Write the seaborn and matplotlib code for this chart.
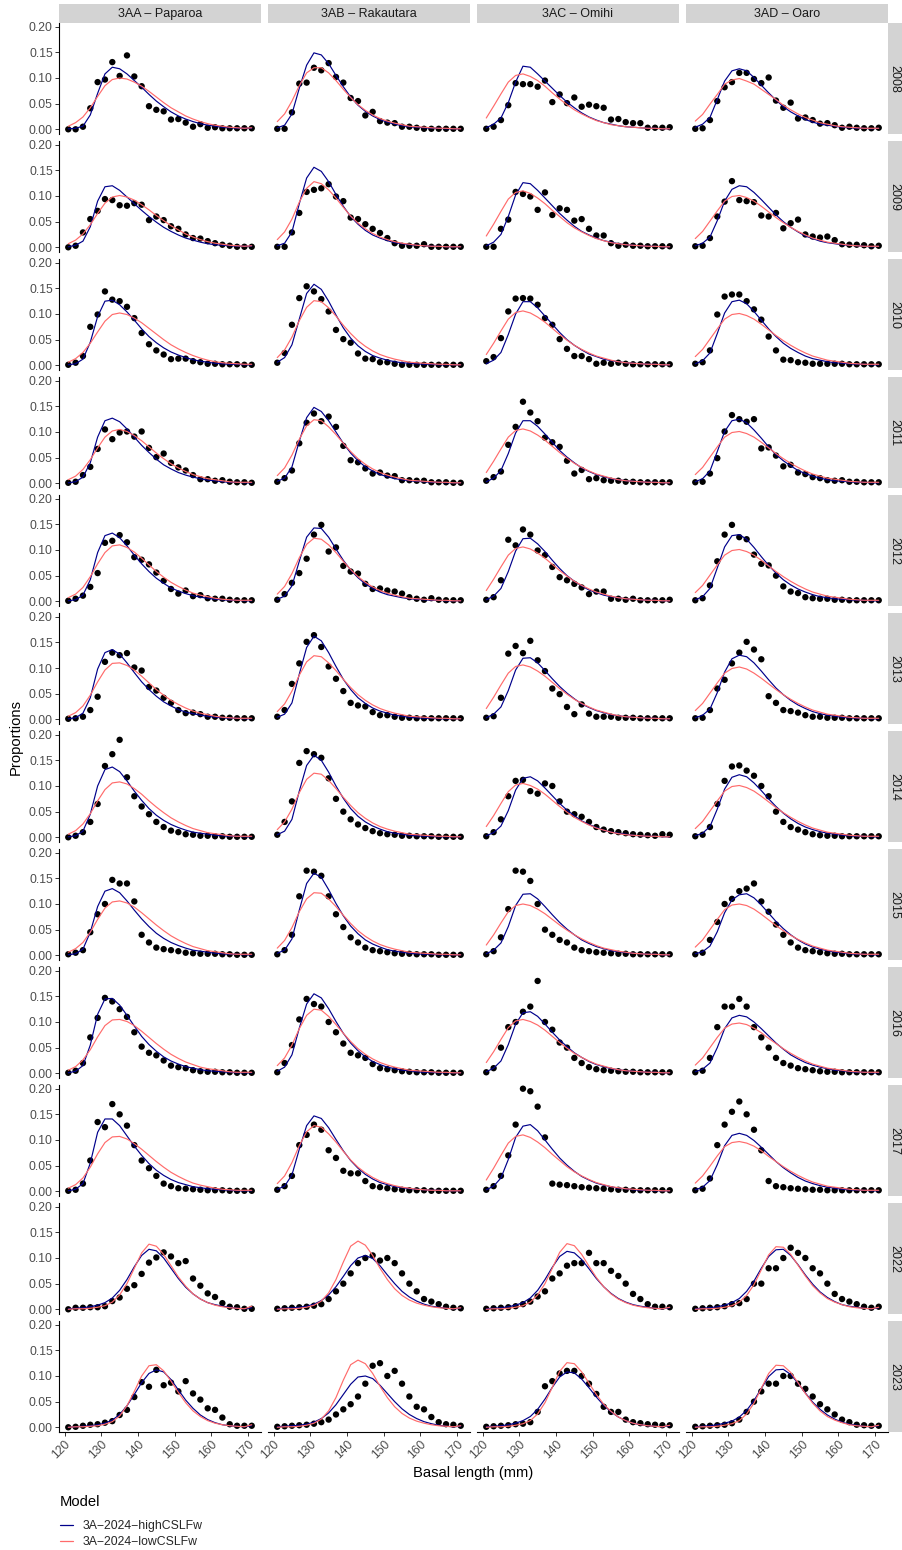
import matplotlib
matplotlib.use("Agg")
import matplotlib.pyplot as plt
import pandas as pd
import seaborn as sns
from matplotlib.lines import Line2D
from matplotlib.patches import Rectangle

sns.set_theme(style="white")
plt.rcParams["font.family"] = ["Liberation Sans", "DejaVu Sans"]

# ---------------------------------------------------------------- data
lengths = list(range(121, 172, 2))
areas = ["3AA – Paparoa", "3AB – Rakautara", "3AC – Omihi", "3AD – Oaro"]
years = [2008, 2009, 2010, 2011, 2012, 2013, 2014, 2015, 2016, 2017, 2022, 2023]
models = ["3A−2024−highCSLFw", "3A−2024−lowCSLFw"]
x_ticks = [120, 130, 140, 150, 160, 170]
y_ticks = [0.00, 0.05, 0.10, 0.15, 0.20]

# observed proportions at length, one row per year
obs_3AA = [
    [0.000,0.000,0.005,0.041,0.092,0.097,0.131,0.104,0.144,0.103,0.084,0.045,0.038,0.035,0.019,0.020,0.013,0.005,0.010,0.003,0.004,0.002,0.002,0.002,0.002,0.002],
    [0.000,0.003,0.029,0.055,0.071,0.094,0.092,0.082,0.081,0.086,0.083,0.053,0.060,0.053,0.041,0.036,0.025,0.018,0.017,0.012,0.008,0.005,0.003,0.001,0.001,0.001],
    [0.001,0.005,0.018,0.075,0.099,0.144,0.128,0.125,0.114,0.092,0.063,0.041,0.029,0.021,0.012,0.013,0.013,0.008,0.006,0.003,0.003,0.002,0.002,0.002,0.001,0.001],
    [0.001,0.003,0.016,0.032,0.067,0.105,0.086,0.099,0.101,0.091,0.101,0.069,0.051,0.058,0.040,0.031,0.025,0.016,0.008,0.008,0.005,0.006,0.003,0.002,0.002,0.001],
    [0.001,0.005,0.011,0.028,0.055,0.114,0.118,0.129,0.115,0.086,0.081,0.072,0.056,0.040,0.024,0.015,0.021,0.010,0.012,0.006,0.005,0.005,0.003,0.002,0.002,0.002],
    [0.001,0.002,0.005,0.018,0.044,0.112,0.130,0.125,0.129,0.101,0.095,0.063,0.056,0.042,0.032,0.018,0.012,0.013,0.010,0.005,0.005,0.003,0.003,0.002,0.002,0.002],
    [0.000,0.003,0.010,0.030,0.065,0.139,0.162,0.190,0.117,0.080,0.060,0.045,0.030,0.020,0.013,0.010,0.006,0.005,0.003,0.003,0.002,0.002,0.001,0.001,0.001,0.001],
    [0.002,0.005,0.010,0.045,0.080,0.100,0.147,0.140,0.140,0.105,0.040,0.025,0.015,0.012,0.010,0.008,0.005,0.004,0.003,0.003,0.003,0.002,0.002,0.001,0.001,0.001],
    [0.001,0.005,0.020,0.070,0.108,0.147,0.140,0.125,0.110,0.080,0.052,0.040,0.035,0.025,0.015,0.012,0.010,0.006,0.004,0.003,0.003,0.002,0.002,0.001,0.001,0.001],
    [0.001,0.003,0.015,0.060,0.135,0.125,0.170,0.150,0.128,0.090,0.060,0.045,0.030,0.015,0.010,0.006,0.005,0.004,0.003,0.002,0.002,0.002,0.001,0.001,0.001,0.001],
    [0.000,0.003,0.003,0.004,0.004,0.006,0.016,0.023,0.040,0.047,0.069,0.091,0.101,0.111,0.103,0.090,0.094,0.060,0.046,0.031,0.024,0.012,0.005,0.004,0.001,0.001],
    [0.000,0.001,0.003,0.005,0.006,0.009,0.012,0.024,0.034,0.059,0.088,0.079,0.112,0.082,0.087,0.070,0.090,0.066,0.054,0.037,0.034,0.019,0.006,0.003,0.003,0.003],
]
obs_3AB = [
    [0.001,0.001,0.033,0.089,0.091,0.120,0.115,0.129,0.102,0.091,0.061,0.055,0.027,0.034,0.016,0.013,0.012,0.005,0.005,0.003,0.001,0.001,0.001,0.001,0.001,0.001],
    [0.001,0.001,0.029,0.067,0.108,0.112,0.115,0.123,0.099,0.090,0.058,0.055,0.045,0.036,0.028,0.018,0.008,0.003,0.003,0.003,0.006,0.001,0.001,0.001,0.001,0.001],
    [0.005,0.024,0.079,0.131,0.154,0.144,0.129,0.105,0.069,0.051,0.044,0.023,0.013,0.012,0.006,0.006,0.003,0.001,0.001,0.001,0.001,0.001,0.001,0.001,0.001,0.001],
    [0.003,0.010,0.025,0.078,0.118,0.136,0.121,0.130,0.110,0.073,0.045,0.041,0.029,0.019,0.021,0.015,0.014,0.006,0.006,0.005,0.005,0.002,0.002,0.002,0.001,0.001],
    [0.003,0.014,0.036,0.055,0.083,0.130,0.149,0.097,0.105,0.069,0.058,0.054,0.034,0.024,0.025,0.021,0.019,0.015,0.008,0.005,0.003,0.006,0.003,0.002,0.002,0.002],
    [0.005,0.018,0.069,0.109,0.151,0.164,0.141,0.103,0.079,0.055,0.032,0.027,0.025,0.014,0.008,0.008,0.005,0.003,0.003,0.002,0.002,0.002,0.002,0.002,0.002,0.002],
    [0.005,0.030,0.070,0.145,0.168,0.162,0.155,0.115,0.075,0.050,0.035,0.025,0.018,0.012,0.008,0.006,0.005,0.003,0.003,0.002,0.002,0.002,0.001,0.001,0.001,0.001],
    [0.002,0.010,0.040,0.115,0.165,0.163,0.155,0.115,0.080,0.055,0.035,0.025,0.015,0.010,0.008,0.006,0.004,0.003,0.003,0.002,0.002,0.002,0.001,0.001,0.001,0.001],
    [0.002,0.020,0.055,0.105,0.145,0.135,0.130,0.100,0.080,0.058,0.040,0.035,0.030,0.018,0.010,0.008,0.006,0.004,0.003,0.002,0.002,0.002,0.001,0.001,0.001,0.001],
    [0.003,0.010,0.030,0.090,0.110,0.130,0.120,0.080,0.065,0.040,0.035,0.035,0.020,0.010,0.008,0.006,0.004,0.003,0.002,0.002,0.002,0.001,0.001,0.001,0.001,0.001],
    [0.001,0.002,0.003,0.004,0.005,0.007,0.010,0.020,0.035,0.050,0.070,0.090,0.100,0.105,0.095,0.100,0.090,0.070,0.050,0.035,0.020,0.015,0.010,0.005,0.003,0.002],
    [0.001,0.002,0.003,0.004,0.005,0.007,0.010,0.015,0.025,0.035,0.045,0.060,0.085,0.120,0.125,0.100,0.110,0.085,0.060,0.040,0.035,0.020,0.010,0.006,0.005,0.003],
]
obs_3AC = [
    [0.001,0.005,0.018,0.047,0.090,0.088,0.088,0.083,0.095,0.053,0.068,0.051,0.062,0.044,0.048,0.045,0.042,0.019,0.020,0.014,0.012,0.012,0.003,0.003,0.003,0.004],
    [0.001,0.001,0.036,0.054,0.108,0.104,0.099,0.073,0.107,0.063,0.076,0.073,0.052,0.055,0.036,0.023,0.023,0.008,0.003,0.005,0.003,0.003,0.002,0.002,0.002,0.002],
    [0.008,0.016,0.053,0.105,0.130,0.131,0.130,0.118,0.092,0.079,0.051,0.032,0.018,0.018,0.012,0.003,0.005,0.003,0.005,0.003,0.002,0.002,0.002,0.002,0.002,0.002],
    [0.005,0.012,0.023,0.075,0.110,0.159,0.138,0.121,0.089,0.080,0.071,0.044,0.019,0.026,0.008,0.010,0.006,0.005,0.005,0.003,0.003,0.002,0.002,0.002,0.002,0.002],
    [0.003,0.008,0.041,0.120,0.109,0.140,0.130,0.099,0.090,0.067,0.047,0.041,0.034,0.027,0.014,0.019,0.019,0.005,0.005,0.003,0.005,0.002,0.002,0.002,0.002,0.003],
    [0.003,0.006,0.042,0.128,0.143,0.129,0.153,0.115,0.094,0.060,0.049,0.024,0.010,0.029,0.011,0.005,0.005,0.005,0.003,0.003,0.003,0.002,0.002,0.002,0.002,0.002],
    [0.002,0.010,0.035,0.080,0.110,0.112,0.090,0.085,0.105,0.100,0.070,0.050,0.045,0.040,0.030,0.020,0.015,0.012,0.010,0.008,0.006,0.005,0.004,0.003,0.006,0.005],
    [0.002,0.008,0.035,0.090,0.165,0.163,0.145,0.100,0.050,0.040,0.030,0.025,0.015,0.010,0.008,0.006,0.005,0.004,0.003,0.003,0.002,0.002,0.002,0.002,0.002,0.002],
    [0.002,0.010,0.050,0.090,0.100,0.120,0.130,0.180,0.100,0.085,0.060,0.050,0.030,0.020,0.012,0.008,0.006,0.005,0.004,0.003,0.003,0.002,0.002,0.002,0.002,0.002],
    [0.003,0.010,0.030,0.070,0.130,0.200,0.195,0.165,0.105,0.015,0.013,0.012,0.010,0.008,0.007,0.006,0.005,0.004,0.003,0.003,0.002,0.002,0.002,0.002,0.002,0.002],
    [0.001,0.002,0.003,0.004,0.006,0.010,0.015,0.025,0.035,0.060,0.070,0.085,0.090,0.090,0.110,0.090,0.090,0.075,0.065,0.050,0.030,0.020,0.010,0.005,0.005,0.004],
    [0.001,0.002,0.003,0.004,0.006,0.007,0.010,0.030,0.080,0.090,0.105,0.110,0.110,0.100,0.085,0.065,0.040,0.030,0.030,0.015,0.010,0.008,0.006,0.005,0.004,0.004],
]
obs_3AD = [
    [0.001,0.002,0.018,0.055,0.082,0.092,0.110,0.110,0.098,0.090,0.101,0.056,0.042,0.052,0.021,0.023,0.018,0.011,0.012,0.008,0.003,0.005,0.003,0.002,0.002,0.003],
    [0.002,0.003,0.018,0.060,0.089,0.129,0.092,0.090,0.088,0.062,0.060,0.067,0.037,0.047,0.054,0.025,0.021,0.019,0.021,0.014,0.006,0.005,0.005,0.004,0.002,0.003],
    [0.003,0.006,0.029,0.099,0.134,0.138,0.138,0.125,0.109,0.089,0.056,0.029,0.011,0.010,0.006,0.005,0.003,0.003,0.003,0.003,0.003,0.002,0.002,0.002,0.002,0.002],
    [0.002,0.003,0.019,0.049,0.101,0.133,0.125,0.120,0.125,0.068,0.070,0.054,0.033,0.036,0.021,0.018,0.012,0.010,0.006,0.005,0.006,0.003,0.003,0.002,0.002,0.002],
    [0.002,0.006,0.031,0.078,0.130,0.149,0.125,0.121,0.091,0.073,0.070,0.050,0.029,0.019,0.016,0.008,0.006,0.005,0.005,0.003,0.003,0.002,0.002,0.002,0.002,0.002],
    [0.002,0.003,0.018,0.060,0.077,0.109,0.130,0.151,0.136,0.117,0.045,0.032,0.018,0.016,0.013,0.008,0.005,0.005,0.003,0.003,0.003,0.002,0.002,0.002,0.002,0.002],
    [0.002,0.005,0.020,0.065,0.110,0.138,0.140,0.130,0.120,0.100,0.080,0.050,0.030,0.020,0.015,0.010,0.006,0.004,0.003,0.003,0.002,0.002,0.002,0.002,0.002,0.002],
    [0.002,0.005,0.030,0.065,0.100,0.110,0.125,0.130,0.140,0.105,0.085,0.060,0.040,0.025,0.015,0.010,0.008,0.006,0.004,0.003,0.003,0.002,0.002,0.002,0.002,0.002],
    [0.002,0.005,0.030,0.090,0.130,0.130,0.145,0.130,0.090,0.070,0.050,0.030,0.020,0.015,0.010,0.008,0.006,0.004,0.003,0.003,0.002,0.002,0.002,0.002,0.002,0.002],
    [0.002,0.005,0.025,0.090,0.130,0.155,0.175,0.150,0.120,0.080,0.020,0.010,0.008,0.006,0.005,0.004,0.003,0.003,0.002,0.002,0.002,0.002,0.002,0.002,0.002,0.002],
    [0.001,0.002,0.003,0.004,0.006,0.010,0.012,0.020,0.050,0.050,0.080,0.080,0.100,0.120,0.110,0.100,0.080,0.070,0.050,0.030,0.020,0.015,0.010,0.005,0.003,0.005],
    [0.001,0.002,0.003,0.004,0.005,0.008,0.015,0.030,0.050,0.070,0.085,0.085,0.100,0.100,0.085,0.075,0.060,0.045,0.035,0.025,0.015,0.010,0.005,0.004,0.003,0.003],
]

# expected proportions, model 3A-2024-highCSLFw
high_3AA = [
    [0.001,0.002,0.006,0.028,0.070,0.108,0.121,0.118,0.108,0.095,0.082,0.068,0.055,0.044,0.034,0.026,0.020,0.015,0.011,0.008,0.006,0.004,0.003,0.002,0.002,0.002],
    [0.001,0.004,0.012,0.040,0.090,0.118,0.120,0.111,0.098,0.085,0.072,0.060,0.049,0.039,0.031,0.024,0.018,0.014,0.010,0.007,0.005,0.004,0.003,0.002,0.002,0.002],
    [0.001,0.003,0.012,0.045,0.095,0.125,0.127,0.118,0.104,0.088,0.071,0.056,0.044,0.034,0.026,0.020,0.015,0.011,0.008,0.006,0.004,0.003,0.002,0.002,0.001,0.001],
    [0.001,0.003,0.012,0.040,0.090,0.122,0.127,0.120,0.106,0.090,0.074,0.060,0.047,0.036,0.028,0.021,0.016,0.012,0.009,0.006,0.005,0.003,0.002,0.002,0.001,0.001],
    [0.001,0.003,0.012,0.042,0.095,0.128,0.133,0.124,0.108,0.090,0.073,0.058,0.045,0.035,0.026,0.020,0.015,0.011,0.008,0.006,0.004,0.003,0.002,0.002,0.001,0.001],
    [0.001,0.003,0.012,0.042,0.098,0.130,0.136,0.127,0.110,0.091,0.073,0.058,0.045,0.034,0.026,0.019,0.014,0.011,0.008,0.006,0.004,0.003,0.002,0.002,0.001,0.001],
    [0.001,0.003,0.012,0.045,0.100,0.132,0.137,0.128,0.110,0.090,0.072,0.056,0.043,0.033,0.025,0.019,0.014,0.010,0.008,0.006,0.004,0.003,0.002,0.002,0.001,0.001],
    [0.001,0.003,0.012,0.045,0.095,0.125,0.130,0.122,0.106,0.088,0.071,0.056,0.043,0.033,0.025,0.019,0.014,0.010,0.008,0.006,0.004,0.003,0.002,0.002,0.001,0.001],
    [0.001,0.004,0.015,0.055,0.115,0.145,0.146,0.133,0.113,0.092,0.072,0.056,0.043,0.032,0.024,0.018,0.013,0.010,0.007,0.005,0.004,0.003,0.002,0.001,0.001,0.001],
    [0.001,0.004,0.015,0.055,0.115,0.141,0.141,0.128,0.108,0.088,0.070,0.054,0.041,0.031,0.023,0.017,0.013,0.009,0.007,0.005,0.004,0.003,0.002,0.001,0.001,0.001],
    [0.001,0.002,0.003,0.005,0.008,0.013,0.022,0.037,0.058,0.083,0.105,0.117,0.114,0.100,0.080,0.060,0.043,0.030,0.020,0.013,0.009,0.006,0.004,0.002,0.001,0.003],
    [0.000,0.001,0.002,0.003,0.005,0.008,0.014,0.025,0.042,0.064,0.087,0.105,0.112,0.108,0.093,0.073,0.053,0.037,0.024,0.015,0.009,0.005,0.003,0.002,0.001,0.003],
]
high_3AB = [
    [0.003,0.008,0.030,0.080,0.125,0.149,0.145,0.128,0.105,0.083,0.063,0.047,0.035,0.026,0.019,0.014,0.010,0.007,0.005,0.004,0.003,0.002,0.002,0.001,0.001,0.001],
    [0.003,0.008,0.030,0.085,0.135,0.156,0.148,0.128,0.103,0.080,0.060,0.045,0.033,0.024,0.018,0.013,0.009,0.007,0.005,0.004,0.003,0.002,0.002,0.001,0.001,0.001],
    [0.006,0.015,0.040,0.090,0.140,0.158,0.148,0.125,0.098,0.073,0.053,0.038,0.027,0.019,0.014,0.010,0.007,0.005,0.004,0.003,0.002,0.002,0.001,0.001,0.001,0.001],
    [0.004,0.010,0.032,0.082,0.128,0.148,0.140,0.122,0.100,0.078,0.059,0.044,0.032,0.024,0.017,0.013,0.009,0.007,0.005,0.004,0.003,0.002,0.002,0.001,0.001,0.001],
    [0.004,0.010,0.030,0.078,0.125,0.143,0.142,0.125,0.102,0.080,0.061,0.046,0.034,0.025,0.018,0.013,0.010,0.007,0.005,0.004,0.003,0.002,0.002,0.001,0.001,0.001],
    [0.004,0.010,0.032,0.088,0.140,0.162,0.153,0.130,0.103,0.078,0.058,0.042,0.031,0.022,0.016,0.012,0.008,0.006,0.004,0.003,0.002,0.002,0.001,0.001,0.001,0.001],
    [0.005,0.012,0.035,0.090,0.140,0.160,0.150,0.127,0.100,0.076,0.056,0.041,0.030,0.022,0.016,0.011,0.008,0.006,0.004,0.003,0.002,0.002,0.001,0.001,0.001,0.001],
    [0.004,0.010,0.032,0.088,0.140,0.160,0.152,0.128,0.101,0.077,0.057,0.042,0.030,0.022,0.016,0.011,0.008,0.006,0.004,0.003,0.002,0.002,0.001,0.001,0.001,0.001],
    [0.004,0.012,0.036,0.088,0.135,0.155,0.147,0.126,0.101,0.078,0.059,0.044,0.032,0.023,0.017,0.012,0.009,0.006,0.005,0.003,0.002,0.002,0.001,0.001,0.001,0.001],
    [0.004,0.010,0.032,0.082,0.128,0.147,0.142,0.124,0.101,0.079,0.060,0.045,0.033,0.024,0.017,0.013,0.009,0.007,0.005,0.004,0.003,0.002,0.002,0.001,0.001,0.001],
    [0.001,0.002,0.003,0.004,0.006,0.010,0.017,0.028,0.044,0.064,0.085,0.100,0.105,0.099,0.085,0.067,0.050,0.035,0.024,0.016,0.010,0.006,0.004,0.002,0.001,0.002],
    [0.001,0.002,0.003,0.004,0.006,0.010,0.017,0.028,0.044,0.064,0.084,0.098,0.100,0.095,0.082,0.066,0.050,0.036,0.025,0.017,0.011,0.007,0.004,0.002,0.001,0.002],
]
high_3AC = [
    [0.003,0.010,0.022,0.052,0.092,0.123,0.121,0.108,0.094,0.080,0.066,0.053,0.042,0.032,0.024,0.018,0.013,0.010,0.007,0.005,0.004,0.003,0.002,0.002,0.001,0.001],
    [0.003,0.010,0.025,0.060,0.102,0.126,0.124,0.111,0.096,0.081,0.066,0.053,0.041,0.031,0.024,0.018,0.013,0.010,0.007,0.005,0.004,0.003,0.002,0.002,0.001,0.001],
    [0.003,0.010,0.025,0.060,0.100,0.124,0.124,0.112,0.096,0.080,0.064,0.050,0.039,0.030,0.022,0.017,0.012,0.009,0.007,0.005,0.004,0.003,0.002,0.002,0.001,0.001],
    [0.003,0.010,0.025,0.058,0.098,0.122,0.122,0.111,0.096,0.080,0.064,0.051,0.040,0.030,0.023,0.017,0.013,0.009,0.007,0.005,0.004,0.003,0.002,0.002,0.001,0.001],
    [0.003,0.010,0.025,0.058,0.098,0.122,0.123,0.112,0.097,0.080,0.064,0.050,0.039,0.030,0.022,0.017,0.012,0.009,0.007,0.005,0.004,0.003,0.002,0.002,0.001,0.001],
    [0.003,0.010,0.024,0.056,0.096,0.119,0.120,0.110,0.095,0.079,0.064,0.051,0.040,0.030,0.023,0.017,0.013,0.009,0.007,0.005,0.004,0.003,0.002,0.002,0.001,0.001],
    [0.003,0.009,0.022,0.052,0.092,0.115,0.118,0.110,0.096,0.081,0.066,0.053,0.042,0.032,0.025,0.019,0.014,0.010,0.008,0.006,0.004,0.003,0.002,0.002,0.001,0.001],
    [0.003,0.010,0.024,0.056,0.097,0.119,0.120,0.110,0.095,0.079,0.064,0.051,0.040,0.030,0.023,0.017,0.013,0.009,0.007,0.005,0.004,0.003,0.002,0.002,0.001,0.001],
    [0.003,0.010,0.024,0.056,0.096,0.118,0.120,0.111,0.096,0.080,0.065,0.052,0.040,0.031,0.023,0.017,0.013,0.009,0.007,0.005,0.004,0.003,0.002,0.002,0.001,0.001],
    [0.003,0.010,0.026,0.062,0.105,0.127,0.130,0.118,0.100,0.082,0.065,0.051,0.039,0.029,0.022,0.016,0.012,0.009,0.006,0.005,0.003,0.002,0.002,0.001,0.001,0.001],
    [0.001,0.002,0.003,0.005,0.008,0.013,0.022,0.037,0.058,0.082,0.103,0.113,0.110,0.097,0.079,0.060,0.044,0.031,0.021,0.014,0.009,0.006,0.004,0.002,0.001,0.003],
    [0.001,0.002,0.003,0.005,0.008,0.013,0.021,0.035,0.055,0.078,0.098,0.108,0.106,0.094,0.077,0.059,0.043,0.030,0.020,0.013,0.008,0.005,0.003,0.002,0.001,0.003],
]
high_3AD = [
    [0.004,0.010,0.023,0.058,0.094,0.114,0.118,0.114,0.101,0.086,0.071,0.057,0.044,0.034,0.026,0.019,0.014,0.010,0.008,0.006,0.004,0.003,0.002,0.002,0.001,0.002],
    [0.003,0.008,0.020,0.052,0.090,0.113,0.120,0.118,0.107,0.093,0.078,0.063,0.050,0.039,0.030,0.022,0.017,0.012,0.009,0.007,0.005,0.004,0.003,0.002,0.001,0.002],
    [0.003,0.009,0.024,0.062,0.102,0.124,0.127,0.120,0.105,0.088,0.071,0.056,0.043,0.033,0.025,0.018,0.013,0.010,0.007,0.005,0.004,0.003,0.002,0.002,0.001,0.001],
    [0.003,0.009,0.024,0.062,0.101,0.122,0.125,0.118,0.104,0.088,0.071,0.056,0.044,0.034,0.025,0.019,0.014,0.010,0.007,0.005,0.004,0.003,0.002,0.002,0.001,0.001],
    [0.003,0.009,0.025,0.065,0.106,0.128,0.130,0.121,0.105,0.087,0.070,0.055,0.042,0.032,0.024,0.018,0.013,0.009,0.007,0.005,0.004,0.003,0.002,0.002,0.001,0.001],
    [0.003,0.008,0.020,0.052,0.092,0.118,0.125,0.122,0.110,0.094,0.077,0.061,0.048,0.037,0.028,0.021,0.015,0.011,0.008,0.006,0.004,0.003,0.002,0.002,0.001,0.001],
    [0.003,0.008,0.021,0.055,0.094,0.117,0.122,0.118,0.106,0.091,0.075,0.060,0.047,0.036,0.027,0.020,0.015,0.011,0.008,0.006,0.004,0.003,0.002,0.002,0.001,0.001],
    [0.003,0.007,0.018,0.046,0.083,0.108,0.118,0.120,0.112,0.098,0.082,0.066,0.052,0.040,0.030,0.022,0.016,0.012,0.009,0.006,0.005,0.003,0.002,0.002,0.001,0.001],
    [0.003,0.008,0.020,0.050,0.087,0.108,0.113,0.110,0.100,0.087,0.073,0.059,0.047,0.036,0.028,0.021,0.016,0.012,0.009,0.006,0.005,0.003,0.002,0.002,0.001,0.001],
    [0.003,0.008,0.021,0.052,0.089,0.109,0.113,0.109,0.099,0.086,0.072,0.058,0.046,0.036,0.027,0.020,0.015,0.011,0.008,0.006,0.004,0.003,0.002,0.002,0.001,0.001],
    [0.001,0.002,0.003,0.005,0.008,0.013,0.021,0.035,0.055,0.080,0.103,0.116,0.117,0.105,0.087,0.067,0.049,0.034,0.023,0.015,0.009,0.006,0.004,0.002,0.001,0.003],
    [0.001,0.002,0.003,0.005,0.008,0.012,0.020,0.033,0.052,0.076,0.099,0.112,0.113,0.103,0.086,0.067,0.049,0.035,0.024,0.016,0.010,0.006,0.004,0.002,0.001,0.003],
]

# expected proportions, model 3A-2024-lowCSLFw
low_3AA = [
    [0.006,0.013,0.024,0.042,0.064,0.085,0.097,0.100,0.098,0.092,0.084,0.074,0.063,0.052,0.042,0.034,0.026,0.020,0.015,0.011,0.008,0.006,0.004,0.003,0.002,0.003],
    [0.007,0.014,0.026,0.044,0.066,0.086,0.098,0.101,0.098,0.092,0.083,0.073,0.062,0.052,0.042,0.034,0.026,0.020,0.015,0.011,0.008,0.006,0.004,0.003,0.002,0.003],
    [0.006,0.013,0.025,0.043,0.065,0.086,0.099,0.102,0.099,0.092,0.083,0.072,0.061,0.050,0.040,0.032,0.025,0.019,0.014,0.010,0.007,0.005,0.004,0.003,0.002,0.002],
    [0.007,0.014,0.027,0.046,0.069,0.090,0.102,0.105,0.101,0.093,0.083,0.071,0.059,0.048,0.038,0.030,0.023,0.017,0.013,0.009,0.007,0.005,0.003,0.002,0.002,0.002],
    [0.007,0.014,0.027,0.048,0.073,0.095,0.108,0.110,0.105,0.096,0.084,0.071,0.058,0.047,0.037,0.029,0.022,0.016,0.012,0.009,0.006,0.004,0.003,0.002,0.002,0.002],
    [0.006,0.013,0.026,0.047,0.073,0.096,0.109,0.110,0.105,0.096,0.084,0.071,0.058,0.047,0.037,0.029,0.022,0.016,0.012,0.009,0.006,0.004,0.003,0.002,0.002,0.002],
    [0.006,0.013,0.026,0.046,0.071,0.093,0.106,0.108,0.104,0.095,0.084,0.071,0.059,0.048,0.038,0.030,0.023,0.017,0.013,0.009,0.007,0.005,0.003,0.002,0.002,0.002],
    [0.006,0.013,0.025,0.045,0.070,0.092,0.104,0.106,0.102,0.094,0.083,0.071,0.059,0.048,0.038,0.030,0.023,0.017,0.013,0.009,0.007,0.005,0.003,0.002,0.002,0.002],
    [0.006,0.013,0.026,0.046,0.071,0.093,0.104,0.105,0.101,0.093,0.082,0.070,0.058,0.047,0.037,0.029,0.022,0.017,0.012,0.009,0.007,0.005,0.003,0.002,0.002,0.002],
    [0.006,0.013,0.026,0.047,0.073,0.095,0.106,0.107,0.102,0.093,0.082,0.070,0.058,0.047,0.037,0.029,0.022,0.016,0.012,0.009,0.006,0.004,0.003,0.002,0.002,0.002],
    [0.000,0.001,0.001,0.002,0.004,0.007,0.014,0.028,0.050,0.080,0.110,0.127,0.123,0.107,0.085,0.063,0.045,0.030,0.020,0.013,0.008,0.005,0.003,0.002,0.001,0.006],
    [0.000,0.001,0.001,0.002,0.003,0.006,0.011,0.022,0.042,0.070,0.100,0.120,0.122,0.110,0.090,0.068,0.048,0.032,0.021,0.013,0.008,0.005,0.003,0.002,0.001,0.005],
]
low_3AB = [
    [0.015,0.030,0.055,0.085,0.110,0.120,0.120,0.110,0.095,0.078,0.062,0.048,0.037,0.028,0.021,0.016,0.012,0.009,0.006,0.005,0.004,0.003,0.002,0.002,0.001,0.001],
    [0.015,0.030,0.055,0.088,0.115,0.128,0.124,0.112,0.096,0.078,0.061,0.047,0.036,0.027,0.020,0.015,0.011,0.008,0.006,0.004,0.003,0.002,0.002,0.001,0.001,0.001],
    [0.015,0.030,0.055,0.087,0.113,0.126,0.124,0.112,0.096,0.078,0.062,0.048,0.037,0.028,0.021,0.016,0.012,0.009,0.006,0.005,0.004,0.003,0.002,0.002,0.001,0.001],
    [0.015,0.030,0.055,0.086,0.112,0.124,0.122,0.110,0.095,0.078,0.062,0.048,0.037,0.028,0.021,0.016,0.012,0.009,0.006,0.005,0.004,0.003,0.002,0.002,0.001,0.001],
    [0.014,0.029,0.054,0.085,0.111,0.123,0.121,0.110,0.095,0.078,0.062,0.048,0.037,0.028,0.021,0.016,0.012,0.009,0.006,0.005,0.004,0.003,0.002,0.002,0.001,0.001],
    [0.015,0.030,0.055,0.086,0.112,0.124,0.122,0.110,0.095,0.078,0.062,0.048,0.037,0.028,0.021,0.016,0.012,0.009,0.006,0.005,0.004,0.003,0.002,0.002,0.001,0.001],
    [0.015,0.030,0.055,0.087,0.113,0.125,0.123,0.111,0.095,0.078,0.062,0.048,0.037,0.028,0.021,0.016,0.012,0.009,0.006,0.005,0.004,0.003,0.002,0.002,0.001,0.001],
    [0.014,0.029,0.054,0.085,0.110,0.122,0.121,0.110,0.095,0.078,0.062,0.048,0.037,0.028,0.021,0.016,0.012,0.009,0.006,0.005,0.004,0.003,0.002,0.002,0.001,0.001],
    [0.015,0.030,0.055,0.087,0.113,0.125,0.123,0.111,0.095,0.078,0.062,0.048,0.037,0.028,0.021,0.016,0.012,0.009,0.006,0.005,0.004,0.003,0.002,0.002,0.001,0.001],
    [0.015,0.030,0.056,0.089,0.116,0.128,0.125,0.112,0.096,0.078,0.061,0.047,0.036,0.027,0.020,0.015,0.011,0.008,0.006,0.004,0.003,0.002,0.002,0.001,0.001,0.001],
    [0.000,0.001,0.001,0.002,0.004,0.008,0.016,0.032,0.058,0.092,0.123,0.133,0.125,0.105,0.080,0.058,0.040,0.027,0.018,0.012,0.008,0.005,0.003,0.002,0.001,0.003],
    [0.000,0.001,0.001,0.002,0.004,0.008,0.016,0.032,0.058,0.092,0.122,0.131,0.124,0.105,0.080,0.058,0.040,0.027,0.018,0.012,0.008,0.005,0.003,0.002,0.001,0.003],
]
low_3AC = [
    [0.022,0.045,0.069,0.092,0.105,0.108,0.103,0.095,0.084,0.071,0.059,0.048,0.038,0.030,0.023,0.017,0.013,0.009,0.007,0.005,0.004,0.003,0.002,0.002,0.001,0.001],
    [0.022,0.045,0.070,0.094,0.107,0.110,0.105,0.096,0.085,0.072,0.060,0.048,0.038,0.030,0.023,0.017,0.013,0.009,0.007,0.005,0.004,0.003,0.002,0.002,0.001,0.001],
    [0.021,0.043,0.067,0.090,0.103,0.106,0.102,0.094,0.084,0.072,0.060,0.049,0.039,0.031,0.024,0.018,0.014,0.010,0.007,0.005,0.004,0.003,0.002,0.002,0.001,0.001],
    [0.021,0.043,0.067,0.090,0.103,0.106,0.102,0.094,0.084,0.072,0.060,0.049,0.039,0.031,0.024,0.018,0.014,0.010,0.007,0.005,0.004,0.003,0.002,0.002,0.001,0.001],
    [0.021,0.043,0.067,0.090,0.103,0.106,0.102,0.094,0.084,0.072,0.060,0.049,0.039,0.031,0.024,0.018,0.014,0.010,0.007,0.005,0.004,0.003,0.002,0.002,0.001,0.001],
    [0.021,0.043,0.067,0.090,0.103,0.106,0.102,0.094,0.084,0.072,0.060,0.049,0.039,0.031,0.024,0.018,0.014,0.010,0.007,0.005,0.004,0.003,0.002,0.002,0.001,0.001],
    [0.021,0.042,0.066,0.089,0.102,0.105,0.101,0.094,0.084,0.072,0.060,0.049,0.039,0.031,0.024,0.018,0.014,0.010,0.007,0.005,0.004,0.003,0.002,0.002,0.001,0.001],
    [0.020,0.040,0.063,0.085,0.097,0.100,0.097,0.090,0.081,0.070,0.059,0.049,0.040,0.032,0.025,0.019,0.014,0.011,0.008,0.006,0.004,0.003,0.002,0.002,0.001,0.001],
    [0.021,0.042,0.066,0.089,0.102,0.105,0.101,0.094,0.084,0.072,0.060,0.049,0.039,0.031,0.024,0.018,0.014,0.010,0.007,0.005,0.004,0.003,0.002,0.002,0.001,0.001],
    [0.022,0.045,0.070,0.094,0.107,0.110,0.105,0.096,0.085,0.072,0.060,0.048,0.038,0.030,0.023,0.017,0.013,0.009,0.007,0.005,0.004,0.003,0.002,0.002,0.001,0.001],
    [0.000,0.001,0.001,0.002,0.004,0.007,0.014,0.028,0.050,0.080,0.111,0.128,0.124,0.107,0.084,0.062,0.044,0.030,0.020,0.013,0.008,0.005,0.003,0.002,0.001,0.004],
    [0.000,0.001,0.001,0.002,0.004,0.007,0.013,0.026,0.048,0.078,0.109,0.126,0.124,0.108,0.086,0.064,0.045,0.031,0.020,0.013,0.008,0.005,0.003,0.002,0.001,0.004],
]
low_3AD = [
    [0.016,0.029,0.049,0.068,0.088,0.096,0.099,0.094,0.088,0.078,0.068,0.058,0.047,0.038,0.030,0.023,0.018,0.013,0.010,0.007,0.005,0.004,0.003,0.002,0.002,0.002],
    [0.017,0.031,0.051,0.071,0.090,0.099,0.101,0.097,0.090,0.080,0.069,0.058,0.048,0.039,0.031,0.024,0.018,0.014,0.010,0.008,0.006,0.004,0.003,0.002,0.002,0.002],
    [0.017,0.031,0.051,0.071,0.090,0.099,0.101,0.097,0.090,0.080,0.069,0.058,0.048,0.039,0.031,0.024,0.018,0.014,0.010,0.008,0.006,0.004,0.003,0.002,0.002,0.002],
    [0.017,0.031,0.051,0.071,0.090,0.099,0.101,0.097,0.090,0.080,0.069,0.058,0.048,0.039,0.031,0.024,0.018,0.014,0.010,0.008,0.006,0.004,0.003,0.002,0.002,0.002],
    [0.017,0.031,0.051,0.071,0.090,0.099,0.101,0.097,0.090,0.080,0.069,0.058,0.048,0.039,0.031,0.024,0.018,0.014,0.010,0.008,0.006,0.004,0.003,0.002,0.002,0.002],
    [0.017,0.031,0.051,0.071,0.090,0.099,0.102,0.098,0.090,0.080,0.069,0.058,0.048,0.039,0.031,0.024,0.018,0.014,0.010,0.008,0.006,0.004,0.003,0.002,0.002,0.002],
    [0.017,0.031,0.051,0.071,0.090,0.099,0.101,0.097,0.090,0.080,0.069,0.058,0.048,0.039,0.031,0.024,0.018,0.014,0.010,0.008,0.006,0.004,0.003,0.002,0.002,0.002],
    [0.016,0.030,0.050,0.070,0.089,0.098,0.100,0.097,0.090,0.080,0.069,0.058,0.048,0.039,0.031,0.024,0.018,0.014,0.010,0.008,0.006,0.004,0.003,0.002,0.002,0.002],
    [0.016,0.030,0.050,0.070,0.088,0.096,0.098,0.095,0.088,0.079,0.068,0.058,0.048,0.039,0.031,0.024,0.018,0.014,0.010,0.008,0.006,0.004,0.003,0.002,0.002,0.002],
    [0.016,0.030,0.049,0.069,0.087,0.095,0.097,0.094,0.088,0.079,0.068,0.058,0.048,0.039,0.031,0.024,0.018,0.014,0.010,0.008,0.006,0.004,0.003,0.002,0.002,0.002],
    [0.000,0.001,0.001,0.002,0.004,0.007,0.014,0.027,0.048,0.077,0.106,0.122,0.121,0.107,0.086,0.065,0.046,0.032,0.021,0.014,0.009,0.005,0.003,0.002,0.001,0.004],
    [0.000,0.001,0.001,0.002,0.004,0.007,0.013,0.026,0.047,0.076,0.105,0.121,0.120,0.107,0.087,0.066,0.047,0.032,0.021,0.014,0.009,0.005,0.003,0.002,0.001,0.004],
]

obs_by_area = [obs_3AA, obs_3AB, obs_3AC, obs_3AD]
high_by_area = [high_3AA, high_3AB, high_3AC, high_3AD]
low_by_area = [low_3AA, low_3AB, low_3AC, low_3AD]

# ---------------------------------------------------------------- style
blue = "#00008B"
red = "#FF6B6B"
strip_grey = "#D3D3D3"
text_grey = "#4D4D4D"

W, H = 902, 1550
fig = plt.figure(figsize=(W / 100, H / 100), dpi=100)
fig.patch.set_facecolor("white")

ylim = (-0.0098, 0.2065)
xlim = (118.5, 173.5)
px_per_unit = 513.0
col_left0, col_step, col_w = 59.1, 209.0, 201.8
row_zero0, row_step = 129.3, 118.0
panel_h = (ylim[1] - ylim[0]) * px_per_unit


def fx(px):
    return px / W


def fy(py):
    return 1 - py / H


for r, year in enumerate(years):
    y_zero = row_zero0 + row_step * r
    top = y_zero - ylim[1] * px_per_unit
    bottom = top + panel_h
    for c, area in enumerate(areas):
        left = col_left0 + col_step * c
        ax = fig.add_axes([fx(left), fy(bottom), col_w / W, panel_h / H])
        obs = pd.DataFrame({"length": lengths, "prop": obs_by_area[c][r]})
        fits = pd.concat([
            pd.DataFrame({"length": lengths, "prop": high_by_area[c][r], "Model": models[0]}),
            pd.DataFrame({"length": lengths, "prop": low_by_area[c][r], "Model": models[1]}),
        ])
        sns.scatterplot(data=obs, x="length", y="prop", color="black", s=21,
                        edgecolor="none", linewidth=0, ax=ax, zorder=2)
        sns.lineplot(data=fits, x="length", y="prop", hue="Model",
                     palette={models[0]: blue, models[1]: red},
                     linewidth=0.85, legend=False, ax=ax, zorder=3)
        ax.set_xlim(*xlim)
        ax.set_ylim(*ylim)
        ax.set_xlabel("")
        ax.set_ylabel("")
        ax.set_facecolor("white")
        for s in ["top", "right"]:
            ax.spines[s].set_visible(False)
        ax.spines["left"].set_visible(c == 0)
        ax.spines["bottom"].set_visible(r == len(years) - 1)
        for s in ["left", "bottom"]:
            ax.spines[s].set_color("black")
            ax.spines[s].set_linewidth(0.8)
        ax.set_yticks(y_ticks)
        ax.set_xticks(x_ticks)
        ax.tick_params(axis="both", length=3, width=0.7, color="#333333",
                       labelsize=8.8, labelcolor=text_grey, pad=1.5)
        ax.tick_params(axis="y", left=(c == 0), labelleft=(c == 0))
        ax.tick_params(axis="x", bottom=(r == len(years) - 1),
                       labelbottom=(r == len(years) - 1))
        if c == 0:
            ax.set_yticklabels([f"{v:.2f}" for v in y_ticks])
        if r == len(years) - 1:
            ax.set_xticklabels([str(v) for v in x_ticks], rotation=45,
                               ha="right", va="top", rotation_mode="anchor")
        # facet strips
        if r == 0:
            fig.patches.append(Rectangle((fx(left), fy(top)), col_w / W,
                                         (top - 4.5) / H, transform=fig.transFigure,
                                         facecolor=strip_grey, edgecolor="none"))
            fig.text(fx(left + col_w / 2), fy((top + 4.5) / 2), area,
                     ha="center", va="center", fontsize=9, color="#1A1A1A")
        if c == len(areas) - 1:
            sx = left + col_w
            fig.patches.append(Rectangle((fx(sx), fy(bottom)), 18 / W, panel_h / H,
                                         transform=fig.transFigure,
                                         facecolor=strip_grey, edgecolor="none"))
            fig.text(fx(sx + 6.5), fy(top + panel_h / 2), str(year), rotation=-90,
                     ha="center", va="center", fontsize=9, color="#1A1A1A")

# axis titles
fig.text(fx(col_left0 + (col_step * 3 + col_w) / 2), fy(1473), "Basal length (mm)",
         ha="center", va="center", fontsize=10.6, color="black")
fig.text(fx(16), fy(737), "Proportions",
         ha="center", va="center", rotation=90, fontsize=10.6, color="black")

# legend
fig.text(fx(60), fy(1502), "Model", ha="left", va="center",
         fontsize=10.6, color="black")
handles = [Line2D([], [], color=blue, linewidth=0.9),
           Line2D([], [], color=red, linewidth=0.9)]
leg = fig.legend(handles, models, loc="upper left",
                 bbox_to_anchor=(fx(60), fy(1520)), frameon=False,
                 fontsize=8.8, handlelength=1.1, handletextpad=0.75,
                 labelspacing=0.32, borderaxespad=0, borderpad=0)

fig.savefig("out.png", dpi=100, facecolor="white")
